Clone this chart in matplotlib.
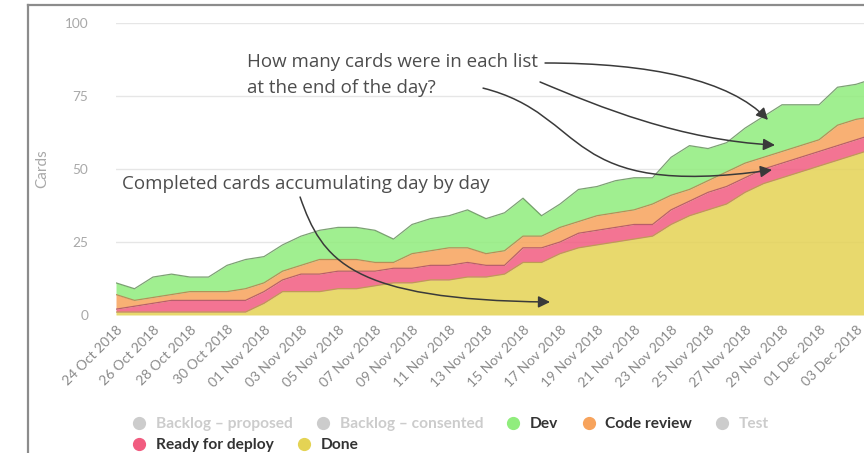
import matplotlib
matplotlib.use("Agg")
import matplotlib.pyplot as plt
import matplotlib.dates as mdates
from matplotlib.lines import Line2D
from matplotlib.patches import FancyArrowPatch
from matplotlib.path import Path
from matplotlib.font_manager import FontProperties
import pandas as pd

# ---------------------------------------------------------------------------
# Data: cards per list at the end of each day (24 Oct 2018 - 04 Dec 2018)
# ---------------------------------------------------------------------------
DATES = pd.date_range("2018-10-24", "2018-12-04", freq="D")

DONE = [1, 1, 1, 1, 1, 1, 1, 1, 4, 8, 8, 8, 9, 9, 10, 11, 11, 12, 12, 13, 13,
        14, 18, 18, 21, 23, 24, 25, 26, 27, 31, 34, 36, 38, 42, 45, 47, 49,
        51, 53, 55, 57]
READY = [1, 2, 3, 4, 4, 4, 4, 4, 4, 4, 6, 6, 6, 6, 5, 5, 5, 5, 5, 5, 4,
         3, 5, 5, 4, 5, 5, 5, 5, 4, 5, 5, 6, 6, 5, 5, 5, 5, 5, 5, 5, 5]
CODE_REVIEW = [5, 2, 2, 2, 3, 3, 3, 4, 3, 3, 3, 5, 4, 4, 3, 2, 5, 5, 6, 5, 4,
               5, 4, 4, 5, 4, 5, 5, 5, 7, 5, 4, 4, 5, 5, 4, 4, 4, 4, 7, 7, 6]
DEV = [4, 4, 7, 7, 5, 5, 9, 10, 9, 9, 10, 10, 11, 11, 11, 8, 10, 11, 11, 13,
       12, 13, 13, 7, 8, 11, 10, 11, 11, 9, 13, 15, 11, 10, 12, 14, 16, 14,
       12, 13, 12, 13]

LEGEND_ROW1 = ["Backlog \u2013 proposed", "Backlog \u2013 consented", "Dev",
               "Code review", "Test"]
LEGEND_ROW2 = ["Ready for deploy", "Done"]

Y_TICKS = [0, 25, 50, 75, 100]

# ---------------------------------------------------------------------------
# Style
# ---------------------------------------------------------------------------
COLORS = {
    "Dev": "#90ed7d",
    "Code review": "#f7a35c",
    "Ready for deploy": "#f15c80",
    "Done": "#e4d354",
}
EDGES = {
    "Dev": "#5d8a52",
    "Code review": "#b8794a",
    "Ready for deploy": "#a94a66",
    "Done": "#b3a544",
}
HIDDEN = "#cccccc"
ARROW_C = "#3a3a3a"
TEXT_C = "#4d4d4d"

W, H = 864, 453
fig = plt.figure(figsize=(W / 100, H / 100), dpi=100)
ax = fig.add_axes([116 / W, 1 - 315 / H, (W - 116) / W, (315 - 23) / H])

x = DATES
base = mdates.date2num(DATES[0])

# ---- stacked areas (bottom to top) ----------------------------------------
layers = [("Done", DONE), ("Ready for deploy", READY),
          ("Code review", CODE_REVIEW), ("Dev", DEV)]
bottom = [0] * len(DATES)
for name, vals in layers:
    top = [b + v for b, v in zip(bottom, vals)]
    ax.fill_between(x, bottom, top, color=COLORS[name], alpha=0.85,
                    linewidth=0, zorder=2)
    ax.plot(x, top, color=EDGES[name], linewidth=0.9, alpha=0.8, zorder=3)
    bottom = top

# ---- axes -----------------------------------------------------------------
ax.set_xlim(base, base + 40.43)
ax.set_ylim(0, 100)
ax.set_yticks(Y_TICKS)
ax.set_xticks(DATES[:41:2])
ax.xaxis.set_major_formatter(mdates.DateFormatter("%d %b %Y"))
for s in ax.spines.values():
    s.set_visible(False)
ax.grid(axis="y", color="#e6e6e6", linewidth=1)
ax.set_axisbelow(True)
ax.tick_params(axis="both", length=0)
ax.tick_params(axis="y", pad=20, labelsize=9.8, labelcolor="#a8a8a8")
ax.tick_params(axis="x", pad=6, labelsize=10, labelcolor="#8a8a8a")
for lbl in ax.get_yticklabels():
    lbl.set_family("Lato")
for lbl in ax.get_xticklabels():
    lbl.set_family("Lato")
    lbl.set_rotation(45)
    lbl.set_ha("right")
    lbl.set_rotation_mode("anchor")
ax.set_ylabel("Cards", fontsize=11, color="#a8a8a8", family="Lato",
              labelpad=11)

# ---- annotations ----------------------------------------------------------
ann = dict(fontsize=13.5, family="Open Sans", color=TEXT_C, va="center",
           ha="left", zorder=5)
ax.text(base + 7.08, 86.6, "How many cards were in each list", **ann)
ax.text(base + 7.08, 77.7, "at the end of the day?", **ann)
ax.text(base + 0.32, 44.9, "Completed cards accumulating day by day", **ann)

arrow_paths = [
    [(23.19, 86.3), (28.86, 86.3), (33.19, 80.5), (35.24, 66.8)],
    [(22.92, 79.8), (26.16, 71.2), (30.49, 59.9), (35.62, 58.2)],
    [(19.84, 77.7), (25.62, 68.5), (24.0, 39.4), (35.46, 49.7)],
    [(9.95, 40.4), (11.14, 18.8), (12.65, 5.1), (23.46, 4.45)],
]
codes = [Path.MOVETO, Path.CURVE4, Path.CURVE4, Path.CURVE4]
for pts in arrow_paths:
    verts = [(base + d, v) for d, v in pts]
    arr = FancyArrowPatch(path=Path(verts, codes),
                          arrowstyle="-|>,head_length=0.7,head_width=0.35",
                          mutation_scale=10, linewidth=1.1, color=ARROW_C,
                          transform=ax.transData, zorder=6)
    ax.add_patch(arr)

# ---- legend (two flowing rows) --------------------------------------------
def handle(c):
    return Line2D([], [], marker="o", linestyle="none", markersize=8.5,
                  markerfacecolor=c, markeredgecolor=c)

row1_cols = [HIDDEN, HIDDEN, COLORS["Dev"], COLORS["Code review"], HIDDEN]
row2_cols = [COLORS["Ready for deploy"], COLORS["Done"]]
row1_txt = [HIDDEN, HIDDEN, "#333333", "#333333", HIDDEN]
row2_txt = ["#333333", "#333333"]

prop = FontProperties(family="Lato", weight="bold", size=11.2)
for labels, cols, tcols, y in [(LEGEND_ROW1, row1_cols, row1_txt, 424),
                               (LEGEND_ROW2, row2_cols, row2_txt, 445)]:
    leg = fig.legend([handle(c) for c in cols], labels, loc="center left",
                     bbox_to_anchor=(133.7 / W, 1 - y / H), ncol=len(labels),
                     frameon=False, borderpad=0, borderaxespad=0,
                     handlelength=0.7, handletextpad=0.72, columnspacing=1.6,
                     prop=prop)
    for t, c in zip(leg.get_texts(), tcols):
        t.set_color(c)

# ---- panel border (left + top) --------------------------------------------
fig.add_artist(Line2D([28 / W, 28 / W], [0, 1 - 5 / H],
                      transform=fig.transFigure, color="#8c8c8c", lw=1.6))
fig.add_artist(Line2D([28 / W, 1], [1 - 5 / H, 1 - 5 / H],
                      transform=fig.transFigure, color="#8c8c8c", lw=1.6))

fig.savefig("out.png", dpi=100)
